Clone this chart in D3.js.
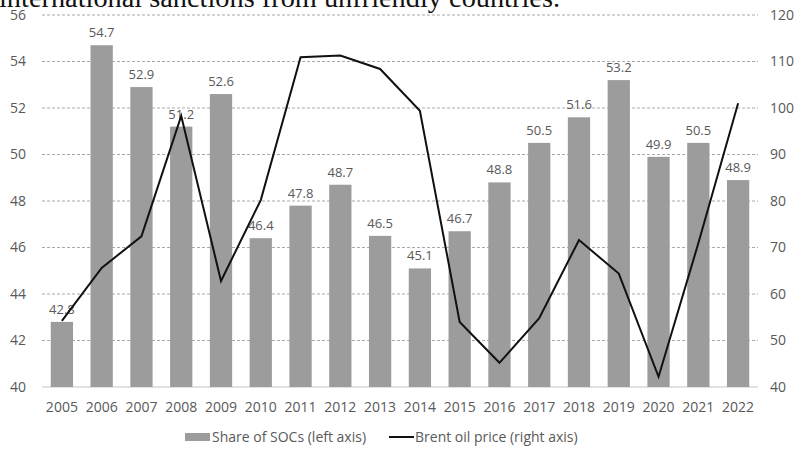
<!DOCTYPE html>
<html>
<head>
  <style>
    body { margin: 0; background: #fff; }
    svg text { font-family: "Open Sans", sans-serif; }
  </style>
</head>
<body>
  <div id="chart"></div>

  <script src="https://d3js.org/d3.v7.min.js"></script>
  <script>
    // Data
    const years = ["2005", "2006", "2007", "2008", "2009", "2010", "2011", "2012", "2013",
                   "2014", "2015", "2016", "2017", "2018", "2019", "2020", "2021", "2022"];
    const socShare = [42.8, 54.7, 52.9, 51.2, 52.6, 46.4, 47.8, 48.7, 46.5,
                      45.1, 46.7, 48.8, 50.5, 51.6, 53.2, 49.9, 50.5, 48.9];
    const brentPrice = [54.2, 65.6, 72.4, 98.3, 62.8, 80.2, 110.9, 111.3, 108.4,
                        99.4, 54.0, 45.2, 54.8, 71.6, 64.4, 42.2, 70.9, 101.0];
    const leftTicks = [40, 42, 44, 46, 48, 50, 52, 54, 56];
    const rightTicks = [40, 50, 60, 70, 80, 90, 100, 110, 120];

    const width = 803, height = 451;
    const plotLeft = 42, plotRight = 758, plotTop = 15, plotBottom = 387;

    const svg = d3.select("#chart")
      .append("svg")
      .attr("width", width)
      .attr("height", height);

    // Cut-off title line from the page above the chart
    svg.append("text")
      .attr("x", -1)
      .attr("y", 7)
      .attr("textLength", 561)
      .attr("lengthAdjust", "spacingAndGlyphs")
      .style("font-family", "'Liberation Serif', serif")
      .style("font-size", "28px")
      .attr("fill", "#111")
      .text("international sanctions from unfriendly countries.");

    const x = d3.scaleBand()
      .domain(years)
      .range([plotLeft, plotRight])
      .paddingInner(0.44)
      .paddingOuter(0.22);

    const yLeft = d3.scaleLinear().domain([40, 56]).range([plotBottom, plotTop]);
    const yRight = d3.scaleLinear().domain([40, 120]).range([plotBottom, plotTop]);

    // Gridlines
    svg.append("g")
      .selectAll("line")
      .data(leftTicks.slice(1))
      .enter()
      .append("line")
      .attr("x1", plotLeft)
      .attr("x2", plotRight)
      .attr("y1", d => yLeft(d))
      .attr("y2", d => yLeft(d))
      .attr("stroke", "#aaa")
      .attr("stroke-width", 1)
      .attr("stroke-dasharray", "3,2");

    // Baseline
    svg.append("line")
      .attr("x1", plotLeft)
      .attr("x2", plotRight)
      .attr("y1", plotBottom)
      .attr("y2", plotBottom)
      .attr("stroke", "#d9d9d9")
      .attr("stroke-width", 1.5);

    // Bars
    svg.append("g")
      .selectAll("rect")
      .data(years)
      .enter()
      .append("rect")
      .attr("x", d => x(d))
      .attr("width", x.bandwidth())
      .attr("y", (d, i) => yLeft(socShare[i]))
      .attr("height", (d, i) => plotBottom - yLeft(socShare[i]))
      .attr("fill", "#9c9c9c");

    // Bar labels
    svg.append("g")
      .selectAll("text")
      .data(years)
      .enter()
      .append("text")
      .attr("x", d => x(d) + x.bandwidth() / 2)
      .attr("y", (d, i) => yLeft(socShare[i]) - 8)
      .attr("text-anchor", "middle")
      .attr("fill", "#595959")
      .style("font-size", "13px")
      .text((d, i) => socShare[i].toFixed(1));

    // Brent line
    const line = d3.line()
      .x((d, i) => x(years[i]) + x.bandwidth() / 2)
      .y(d => yRight(d));

    svg.append("path")
      .datum(brentPrice)
      .attr("d", line)
      .attr("fill", "none")
      .attr("stroke", "#111")
      .attr("stroke-width", 2);

    // Axes
    const axisLeft = svg.append("g")
      .attr("transform", `translate(${plotLeft - 16}, 0)`)
      .call(d3.axisLeft(yLeft).tickValues(leftTicks).tickSize(0).tickPadding(0));
    const axisRight = svg.append("g")
      .attr("transform", `translate(${plotRight + 12}, 0)`)
      .call(d3.axisRight(yRight).tickValues(rightTicks).tickSize(0).tickPadding(0));
    const axisBottom = svg.append("g")
      .attr("transform", `translate(0, ${plotBottom + 15})`)
      .call(d3.axisBottom(x).tickSize(0).tickPadding(0));

    [axisLeft, axisRight, axisBottom].forEach(g => {
      g.select(".domain").remove();
      g.selectAll("text")
        .attr("fill", "#595959")
        .style("font-family", "'Open Sans', sans-serif")
        .style("font-size", "14px");
    });

    // Legend
    const legend = svg.append("g").attr("transform", "translate(0, 437)");
    legend.append("rect")
      .attr("x", 185).attr("y", -4)
      .attr("width", 25).attr("height", 8)
      .attr("fill", "#9c9c9c");
    legend.append("text")
      .attr("x", 212).attr("y", 0)
      .attr("dy", "0.35em")
      .attr("fill", "#595959")
      .style("font-size", "14px")
      .text("Share of SOCs (left axis)");
    legend.append("line")
      .attr("x1", 389).attr("x2", 414)
      .attr("y1", 0).attr("y2", 0)
      .attr("stroke", "#111")
      .attr("stroke-width", 2);
    legend.append("text")
      .attr("x", 415).attr("y", 0)
      .attr("dy", "0.35em")
      .attr("fill", "#595959")
      .style("font-size", "14px")
      .text("Brent oil price (right axis)");
  </script>
</body>
</html>
